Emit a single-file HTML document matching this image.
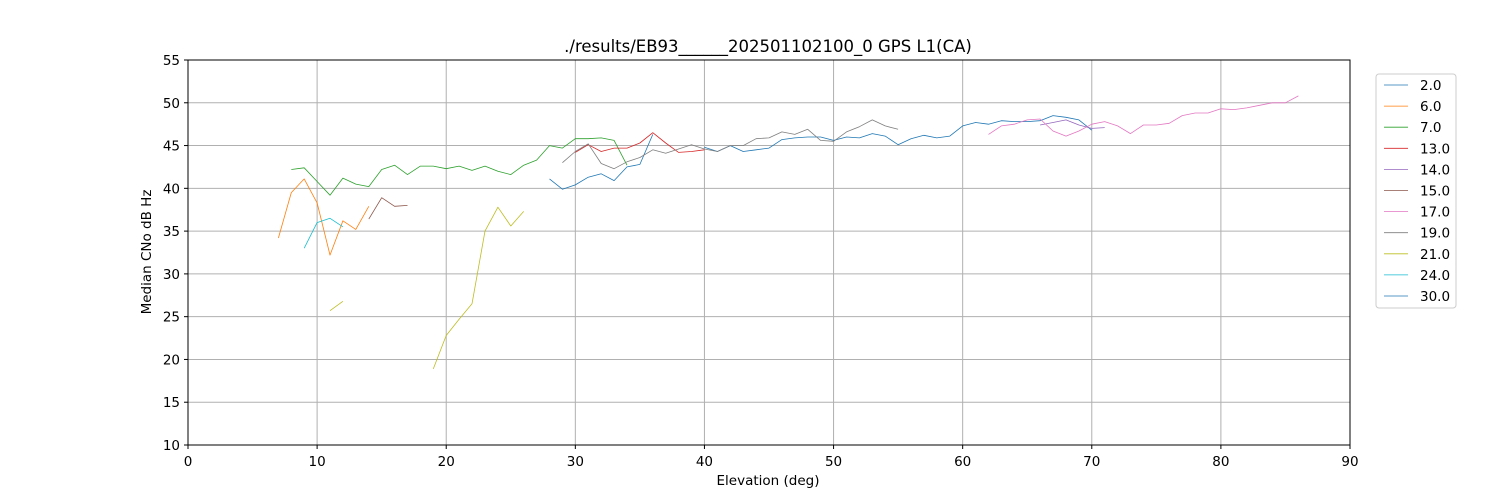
<!DOCTYPE html>
<html><head><meta charset="utf-8"><style>
html,body{margin:0;padding:0;background:#fff;}
svg{display:block;font-family:"DejaVu Sans","Liberation Sans",sans-serif;}
</style></head><body>
<svg id="chart" width="1500" height="500">
<text x="768" y="52" text-anchor="middle" font-size="16.5">./results/EB93______202501102100_0 GPS L1(CA)</text>
<g id="grid"></g>
<g id="series"></g>
<rect x="188" y="60" width="1162" height="385" fill="none" stroke="#000" stroke-width="1"/>
<g id="ticks"></g>
<text x="768" y="485" text-anchor="middle" font-size="13.5">Elevation (deg)</text>
<text transform="translate(151,252) rotate(-90)" text-anchor="middle" font-size="13.5">Median CNo dB Hz</text>
<g id="legend"></g>
</svg>
<script>
const xTicks=[0,10,20,30,40,50,60,70,80,90];
const yTicks=[10,15,20,25,30,35,40,45,50,55];
const labels=["2.0","6.0","7.0","13.0","14.0","15.0","17.0","19.0","21.0","24.0","30.0"];
const colors=["#1f77b4","#ff7f0e","#2ca02c","#d62728","#9467bd","#8c564b","#e377c2","#7f7f7f","#bcbd22","#17becf","#1f77b4"];
const s2_x=[28,29,30,31,32,33,34,35,36,37,38,39,40,41,42,43,44,45,46,47,48,49,50,51,52,53,54,55,56,57,58,59,60,61,62,63,64,65,66,67,68,69,70];
const s2_y=[41.1,39.9,40.4,41.3,41.7,40.9,42.5,42.8,46.3,null,null,null,44.8,44.3,45.0,44.3,44.5,44.7,45.7,45.9,46.0,46.0,45.6,46.0,45.9,46.4,46.1,45.1,45.8,46.2,45.9,46.1,47.3,47.7,47.5,47.9,47.8,47.8,47.9,48.5,48.3,48.0,46.8];
const s6_x=[7,8,9,10,11,12,13,14];
const s6_y=[34.2,39.5,41.1,38.3,32.2,36.2,35.2,37.9];
const s7_x=[8,9,10,11,12,13,14,15,16,17,18,19,20,21,22,23,24,25,26,27,28,29,30,31,32,33,34];
const s7_y=[42.2,42.4,40.8,39.2,41.2,40.5,40.2,42.2,42.7,41.6,42.6,42.6,42.3,42.6,42.1,42.6,42.0,41.6,42.7,43.3,45.0,44.7,45.8,45.8,45.9,45.6,42.7];
const s13_x=[30,31,32,33,34,35,36,37,38,39,40];
const s13_y=[44.2,45.1,44.3,44.7,44.7,45.3,46.5,45.3,44.2,44.3,44.5];
const s14_x=[66,67,68,69,70,71];
const s14_y=[47.4,47.7,48.0,47.4,47.0,47.1];
const s15_x=[14,15,16,17];
const s15_y=[36.4,38.9,37.9,38.0];
const s17_x=[62,63,64,65,66,67,68,69,70,71,72,73,74,75,76,77,78,79,80,81,82,83,84,85,86];
const s17_y=[46.3,47.3,47.5,48.0,48.1,46.7,46.1,46.7,47.5,47.8,47.3,46.4,47.4,47.4,47.6,48.5,48.8,48.8,49.3,49.2,49.4,49.7,50.0,50.0,50.8];
const s19_x=[29,30,31,32,33,34,35,36,37,38,39,40,41,42,43,44,45,46,47,48,49,50,51,52,53,54,55];
const s19_y=[43.0,44.3,45.2,42.9,42.3,43.1,43.6,44.5,44.1,44.6,45.1,44.6,44.3,45.0,45.0,45.8,45.9,46.6,46.3,46.9,45.6,45.5,46.6,47.2,48.0,47.3,46.9];
const s21_x=[11,12,13,19,20,21,22,23,24,25,26];
const s21_y=[25.7,26.8,null,18.9,22.8,24.7,26.5,35.0,37.8,35.6,37.3];
const s24_x=[9,10,11,12];
const s24_y=[33.0,36.0,36.5,35.5];
const s30_x=[];
const s30_y=[];
const seriesX=[s2_x,s6_x,s7_x,s13_x,s14_x,s15_x,s17_x,s19_x,s21_x,s24_x,s30_x];
const seriesY=[s2_y,s6_y,s7_y,s13_y,s14_y,s15_y,s17_y,s19_y,s21_y,s24_y,s30_y];

const NS="http://www.w3.org/2000/svg";
const X=v=>188+(v-0)/90*1162;
const Y=v=>445-(v-10)/45*385;
function mk(tag,attrs,parent){const e=document.createElementNS(NS,tag);for(const k in attrs)e.setAttribute(k,attrs[k]);parent.appendChild(e);return e;}
const grid=document.getElementById('grid'),ticks=document.getElementById('ticks'),ser=document.getElementById('series'),leg=document.getElementById('legend');
xTicks.forEach(t=>{
  const g=mk('line',{x1:X(t),x2:X(t),y1:60,y2:445,stroke:'#b0b0b0','stroke-width':1},grid);
  
  
  const tk=mk('line',{x1:X(t),x2:X(t),y1:445,y2:449,stroke:'#000'},ticks);
  
  
  const tx=mk('text',{x:X(t),y:466,'text-anchor':'middle','font-size':13.5},ticks);
  tx.textContent=t;
  
  
});
yTicks.forEach(t=>{
  const g=mk('line',{x1:188,x2:1350,y1:Y(t),y2:Y(t),stroke:'#b0b0b0','stroke-width':1},grid);
  
  
  const tk=mk('line',{x1:184,x2:188,y1:Y(t),y2:Y(t),stroke:'#000'},ticks);
  
  
  const tx=mk('text',{x:180,y:Y(t)+5,'text-anchor':'end','font-size':13.5},ticks);
  tx.textContent=t;
  
  
});
seriesX.forEach((xs,i)=>{
  const ys=seriesY[i];let d='',pen=false;
  xs.forEach((x,j)=>{const y=ys[j];if(y===null){pen=false;return;}d+=(pen?'L':'M')+X(x).toFixed(1)+' '+Y(y).toFixed(1)+' ';pen=true;});
  if(!d)return;
  const p=mk('path',{d:d,fill:'none',stroke:colors[i],'stroke-width':0.8,'stroke-linejoin':'round'},ser);
  
  
});
const lb=mk('rect',{x:1376,y:74,width:80,height:234,fill:'#fff',stroke:'#ccc',rx:3},leg);


labels.forEach((l,i)=>{
  const y=85+i*21.1;
  const ln=mk('line',{x1:1384,x2:1408,y1:y,y2:y,stroke:colors[i],'stroke-width':0.8},leg);
  
  
  const t=mk('text',{x:1420,y:y+5,'font-size':13.5},leg);
  t.textContent=l;
  
  
});
</script>
</body></html>
